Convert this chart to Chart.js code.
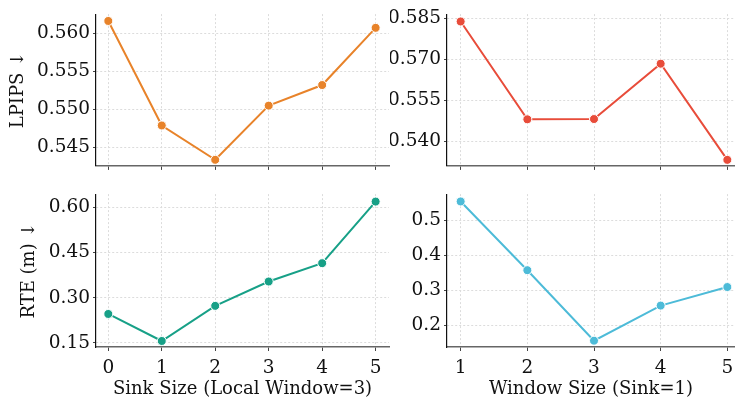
<!DOCTYPE html>
<html>
<head>
<meta charset="utf-8">
<script src="https://cdn.jsdelivr.net/npm/chart.js@4.4.1/dist/chart.umd.min.js"></script>
<style>
  html, body { margin: 0; padding: 0; background: #fff; }
  #wrap { position: relative; width: 735px; height: 400px; overflow: hidden; }
  .panel { position: absolute; }
</style>
</head>
<body>
<div id="wrap">
  <div class="panel" style="left:0;top:0;width:390px;height:180px"><canvas id="tl"></canvas></div>
  <div class="panel" style="left:390px;top:0;width:345px;height:180px"><canvas id="tr"></canvas></div>
  <div class="panel" style="left:0;top:180px;width:390px;height:220px"><canvas id="bl"></canvas></div>
  <div class="panel" style="left:390px;top:180px;width:345px;height:220px"><canvas id="br"></canvas></div>
</div>
<script>
// x values
const sinkSizes = [0, 1, 2, 3, 4, 5];
const windowSizes = [1, 2, 3, 4, 5];

// series values
const lpipsSink = [0.5616, 0.5479, 0.5434, 0.5505, 0.5532, 0.5607];
const lpipsWindow = [0.5838, 0.5481, 0.5482, 0.5684, 0.5333];
const rteSink = [0.246, 0.156, 0.273, 0.354, 0.415, 0.620];
const rteWindow = [0.553, 0.357, 0.156, 0.256, 0.309];

// tick labels
const lpipsSinkTicks = [0.545, 0.550, 0.555, 0.560];
const lpipsWindowTicks = [0.540, 0.555, 0.570, 0.585];
const rteSinkTicks = [0.15, 0.30, 0.45, 0.60];
const rteWindowTicks = [0.2, 0.3, 0.4, 0.5];

const FONT = "'DejaVu Serif', serif";

function makePanel(id, opts) {
  const points = opts.xs.map((x, i) => ({ x: x, y: opts.ys[i] }));
  return new Chart(document.getElementById(id), {
    type: "line",
    data: {
      datasets: [{
        data: points,
        borderColor: opts.color,
        backgroundColor: opts.color,
        borderWidth: 2,
        pointRadius: 4.5,
        pointBorderColor: "#fff",
        pointBorderWidth: 1,
        pointBackgroundColor: opts.color,
        tension: 0,
        clip: false
      }]
    },
    options: {
      responsive: true,
      maintainAspectRatio: false,
      animation: false,
      events: [],
      layout: {
        autoPadding: false,
        padding: { top: opts.padTop, right: opts.padRight, left: 0, bottom: 0 }
      },
      plugins: { legend: { display: false }, tooltip: { enabled: false } },
      scales: {
        x: {
          type: "linear",
          min: opts.xMin,
          max: opts.xMax,
          afterBuildTicks: s => { s.ticks = opts.xs.map(v => ({ value: v })); },
          afterFit: s => {
            s.height = opts.xHeight;
            s.paddingLeft = 0;
            s.paddingRight = 0;
          },
          grid: {
            color: "#dcdcdc",
            drawTicks: true,
            tickLength: 4,
            tickColor: "#444",
            tickWidth: 1
          },
          border: { color: "#666", width: 1.5, dash: [2, 2] },
          ticks: {
            display: opts.showX,
            color: "#111",
            padding: 6,
            maxRotation: 0,
            font: { family: FONT, size: 18.5 },
            callback: v => String(v)
          },
          title: {
            display: opts.showX,
            text: opts.xTitle || "",
            color: "#111",
            font: { family: FONT, size: 18 },
            padding: { top: 0, bottom: 0 }
          }
        },
        y: {
          min: opts.yMin,
          max: opts.yMax,
          afterBuildTicks: s => { s.ticks = opts.yTicks.map(v => ({ value: v })); },
          afterFit: s => { s.width = opts.yWidth; },
          grid: {
            color: "#dcdcdc",
            drawTicks: true,
            tickLength: 3,
            tickColor: "#444",
            tickWidth: 1
          },
          border: { color: "#111", width: 1.2, dash: [2, 2] },
          ticks: {
            color: "#111",
            padding: 3,
            font: { family: FONT, size: 18.5 },
            callback: v => v.toFixed(opts.decimals)
          },
          title: {
            display: !!opts.yTitle,
            text: opts.yTitle || "",
            color: "#111",
            font: { family: FONT, size: 18 },
            padding: { top: opts.yTitlePad, bottom: 0 }
          }
        }
      }
    }
  });
}

makePanel("tl", {
  xs: sinkSizes, ys: lpipsSink, color: "#E8832A",
  xMin: -0.23, xMax: 5.25, yMin: 0.5426, yMax: 0.5625,
  yTicks: lpipsSinkTicks, decimals: 3,
  padTop: 9, padRight: 1, xHeight: 14, yWidth: 96,
  showX: false, yTitle: "LPIPS \u2193", yTitlePad: 8
});

makePanel("tr", {
  xs: windowSizes, ys: lpipsWindow, color: "#E84C3A",
  xMin: 0.795, xMax: 5.115, yMin: 0.5311, yMax: 0.5865,
  yTicks: lpipsWindowTicks, decimals: 3,
  padTop: 9, padRight: 0, xHeight: 14, yWidth: 57,
  showX: false, yTitle: "", yTitlePad: 0
});

makePanel("bl", {
  xs: sinkSizes, ys: rteSink, color: "#17A087",
  xMin: -0.23, xMax: 5.25, yMin: 0.136, yMax: 0.645,
  yTicks: rteSinkTicks, decimals: 2,
  padTop: 10, padRight: 1, xHeight: 53, yWidth: 96,
  showX: true, xTitle: "Sink Size (Local Window=3)",
  yTitle: "RTE (m) \u2193", yTitlePad: 19
});

makePanel("br", {
  xs: windowSizes, ys: rteWindow, color: "#4DBBD8",
  xMin: 0.795, xMax: 5.115, yMin: 0.138, yMax: 0.574,
  yTicks: rteWindowTicks, decimals: 1,
  padTop: 10, padRight: 0, xHeight: 53, yWidth: 57,
  showX: true, xTitle: "Window Size (Sink=1)",
  yTitle: "", yTitlePad: 0
});
</script>
</body>
</html>
